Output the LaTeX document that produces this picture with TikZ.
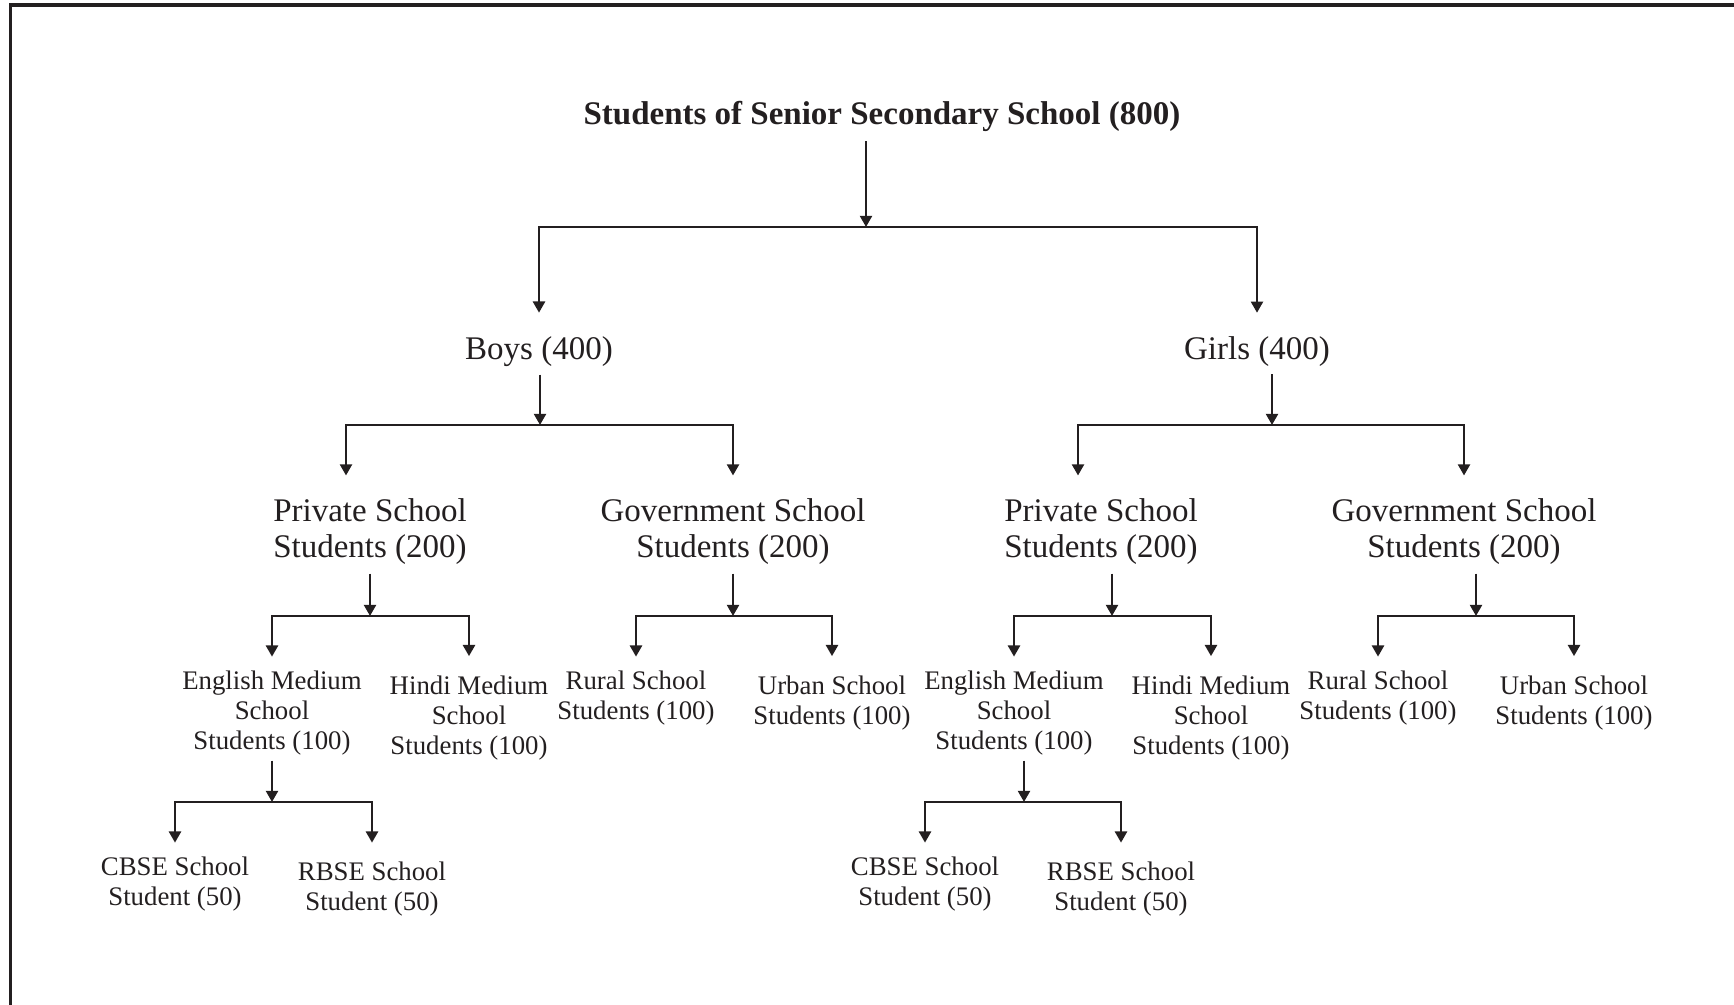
\documentclass[tikz,border=0pt]{standalone}
\usepackage{fontspec}
\setmainfont{Liberation Serif}
\usetikzlibrary{arrows.meta}
\definecolor{ink}{HTML}{231F20}
\tikzset{
  big/.style={inner sep=0pt, align=center, text=ink, font=\fontsize{16.5}{18.25}\selectfont},
  small/.style={inner sep=0pt, align=center, text=ink, font=\fontsize{13.4}{15}\selectfont},
  arr/.style={draw=ink, line width=1.25pt, -{Triangle[length=5.6pt,width=6pt]}},
}
\begin{document}
\begin{tikzpicture}[x=0.5pt,y=-0.5pt]
\useasboundingbox (0,0) rectangle (1734,1005);
\draw[draw=ink, line width=1.8pt] (10.5,1005) -- (10.5,5) -- (1734,5);

% nodes
\node[big, font=\fontsize{16.5}{18.25}\selectfont\bfseries] (title) at (882,116.5) {Students of Senior Secondary School (800)};
\node[big] (boys)  at (539,351.5) {Boys (400)};
\node[big] (girls) at (1257,351.5) {Girls (400)};
\node[big] (bpriv) at (370,531.5) {Private School\\Students (200)};
\node[big] (bgov)  at (733,531.5) {Government School\\Students (200)};
\node[big] (gpriv) at (1101,531.5) {Private School\\Students (200)};
\node[big] (ggov)  at (1464,531.5) {Government School\\Students (200)};
\node[small] (beng) at (272,713) {English Medium\\School\\Students (100)};
\node[small] (bhin) at (469,718.5) {Hindi Medium\\School\\Students (100)};
\node[small] (brur) at (636,698) {Rural School\\Students (100)};
\node[small] (burb) at (832,703.5) {Urban School\\Students (100)};
\node[small] (geng) at (1014,713) {English Medium\\School\\Students (100)};
\node[small] (ghin) at (1211,718.5) {Hindi Medium\\School\\Students (100)};
\node[small] (grur) at (1378,698) {Rural School\\Students (100)};
\node[small] (gurb) at (1574,703.5) {Urban School\\Students (100)};
\node[small] (bcbse) at (175,884) {CBSE School\\Student (50)};
\node[small] (brbse) at (372,889) {RBSE School\\Student (50)};
\node[small] (gcbse) at (925,884) {CBSE School\\Student (50)};
\node[small] (grbse) at (1121,889) {RBSE School\\Student (50)};

% junctions
\coordinate (j0)  at (866,227);
\coordinate (jb)  at (540,425);
\coordinate (jg)  at (1272,425);
\coordinate (jbp) at (370,616);
\coordinate (jbg) at (733,616);
\coordinate (jgp) at (1112,616);
\coordinate (jgg) at (1476,616);
\coordinate (jbe) at (272,802);
\coordinate (jge) at (1024,802);
\coordinate (bpx) at (346,0);
\coordinate (gpx) at (1078,0);

% root
\draw[arr, shorten <=4.7pt] (title.south -| j0) -- (j0);
\draw[arr, shorten >=11.7pt] (j0) -| (boys.north);
\draw[arr, shorten >=11.7pt] (j0) -| (girls.north);
% boys
\draw[arr, shorten <=3.8pt] (boys.south -| jb) -- (jb);
\draw[arr, shorten >=11.2pt] (jb) -| (bpriv.north -| bpx);
\draw[arr, shorten >=11.2pt] (jb) -| (bgov.north);
% girls
\draw[arr, shorten <=3.8pt] (girls.south -| jg) -- (jg);
\draw[arr, shorten >=11.2pt] (jg) -| (gpriv.north -| gpx);
\draw[arr, shorten >=11.2pt] (jg) -| (ggov.north);
% boys private
\draw[arr, shorten <=4.3pt] (bpriv.south -| jbp) -- (jbp);
\draw[arr, shorten >=6.9pt] (jbp) -| (beng.north);
\draw[arr, shorten >=9.9pt] (jbp) -| (bhin.north);
% boys government
\draw[arr, shorten <=4.3pt] (bgov.south -| jbg) -- (jbg);
\draw[arr, shorten >=6.9pt] (jbg) -| (brur.north);
\draw[arr, shorten >=9.9pt] (jbg) -| (burb.north);
% girls private
\draw[arr, shorten <=4.3pt] (gpriv.south -| jgp) -- (jgp);
\draw[arr, shorten >=6.9pt] (jgp) -| (geng.north);
\draw[arr, shorten >=9.9pt] (jgp) -| (ghin.north);
% girls government
\draw[arr, shorten <=4.3pt] (ggov.south -| jgg) -- (jgg);
\draw[arr, shorten >=6.9pt] (jgg) -| (grur.north);
\draw[arr, shorten >=9.9pt] (jgg) -| (gurb.north);
% boys english
\draw[arr, shorten <=2.5pt] (beng.south -| jbe) -- (jbe);
\draw[arr, shorten >=6.9pt] (jbe) -| (bcbse.north);
\draw[arr, shorten >=9.4pt] (jbe) -| (brbse.north);
% girls english
\draw[arr, shorten <=2.5pt] (geng.south -| jge) -- (jge);
\draw[arr, shorten >=6.9pt] (jge) -| (gcbse.north);
\draw[arr, shorten >=9.4pt] (jge) -| (grbse.north);
\end{tikzpicture}
\end{document}
